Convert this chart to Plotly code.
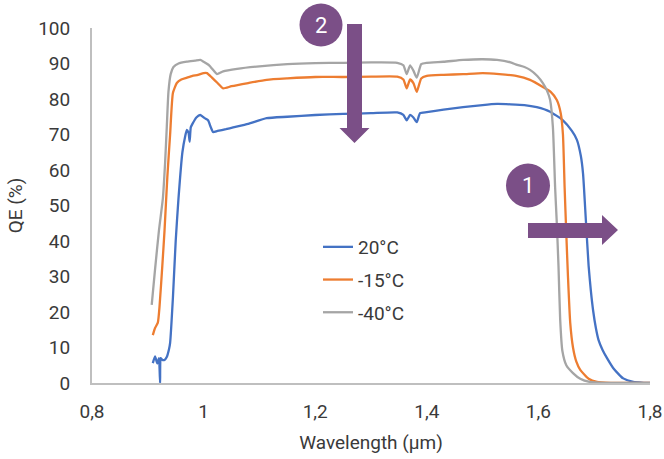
import plotly.graph_objects as go

# ---- data ----
names = ["20°C", "-15°C", "-40°C"]
colors = ["#4472C4", "#ED7D31", "#A5A5A5"]

x_20 = [0.909, 0.913, 0.917, 0.920, 0.922, 0.923, 0.926, 0.930, 0.934, 0.938, 0.940, 0.945,
        0.950, 0.955, 0.962, 0.967, 0.970, 0.973, 0.975, 0.977, 0.980, 0.987, 0.994, 1.002,
        1.008, 1.013, 1.017, 1.025, 1.040, 1.053, 1.080, 1.113, 1.150, 1.200, 1.250, 1.300,
        1.347, 1.358, 1.364, 1.370, 1.376, 1.382, 1.388, 1.400, 1.430, 1.465, 1.500, 1.526,
        1.550, 1.575, 1.597, 1.620, 1.644, 1.660, 1.669, 1.676, 1.680, 1.685, 1.690, 1.694,
        1.698, 1.703, 1.708, 1.715, 1.723, 1.735, 1.752, 1.770, 1.790, 1.800]
y_20 = [5.6, 7.5, 5.5, 7.0, 0.0, 7.0, 6.5, 6.5, 7.3, 9.5, 11.3, 24.0,
        40.0, 52.0, 65.0, 69.5, 71.3, 70.5, 68.0, 72.0, 73.0, 74.8, 75.5, 74.6,
        74.0, 72.0, 70.7, 71.0, 71.5, 72.0, 73.0, 74.6, 75.0, 75.5, 75.8, 76.0,
        76.2, 75.5, 74.0, 75.5, 74.8, 73.5, 76.0, 76.3, 77.0, 77.7, 78.3, 78.6,
        78.5, 78.3, 77.7, 76.5, 74.0, 71.0, 68.5, 64.0, 59.0, 46.0, 33.0, 26.0,
        20.5, 15.5, 12.0, 9.3, 7.0, 4.0, 1.3, 0.3, 0.05, 0.0]

x_15 = [0.909, 0.913, 0.918, 0.921, 0.926, 0.930, 0.935, 0.940, 0.945, 0.952, 0.960,
        0.970, 0.980, 0.990, 1.000, 1.006, 1.015, 1.025, 1.035, 1.050, 1.080, 1.113,
        1.150, 1.200, 1.250, 1.300, 1.347, 1.358, 1.364, 1.370, 1.376, 1.382, 1.390,
        1.400, 1.430, 1.465, 1.500, 1.530, 1.560, 1.585, 1.608, 1.622, 1.633, 1.640,
        1.644, 1.647, 1.650, 1.653, 1.657, 1.662, 1.668, 1.675, 1.690, 1.705, 1.730,
        1.760, 1.800]
y_15 = [13.5, 15.5, 17.0, 21.5, 33.0, 43.0, 58.0, 70.0, 81.7, 84.5, 85.5,
        86.0, 86.5, 86.8, 87.3, 87.3, 86.0, 84.5, 83.0, 83.6, 84.5, 85.4,
        85.8, 86.2, 86.2, 86.3, 86.3, 85.5, 83.0, 85.5, 84.5, 82.0, 85.8,
        86.5, 86.8, 87.0, 87.3, 87.0, 86.5, 85.4, 83.4, 82.0, 79.7, 76.0,
        70.0, 55.0, 42.0, 30.0, 17.0, 10.0, 6.0, 3.7, 1.2, 0.3, 0.05,
        0.0, 0.0]

x_40 = [0.907, 0.913, 0.920, 0.927, 0.931, 0.934, 0.937, 0.941, 0.946, 0.955, 0.970,
        0.985, 0.994, 1.000, 1.010, 1.018, 1.024, 1.035, 1.060, 1.100, 1.150, 1.200,
        1.250, 1.300, 1.347, 1.358, 1.364, 1.370, 1.376, 1.382, 1.390, 1.400, 1.430,
        1.465, 1.500, 1.526, 1.550, 1.562, 1.575, 1.585, 1.598, 1.608, 1.615, 1.621,
        1.626, 1.630, 1.633, 1.636, 1.639, 1.643, 1.650, 1.662, 1.675, 1.692, 1.720,
        1.760, 1.800]
y_40 = [22.0, 32.0, 43.0, 52.0, 62.0, 72.0, 82.0, 87.0, 89.0, 90.0, 90.5,
        90.8, 91.0, 90.5, 89.5, 88.0, 87.0, 87.8, 88.5, 89.2, 89.8, 90.1,
        90.2, 90.3, 90.2, 89.5, 87.0, 89.5, 88.0, 86.0, 89.8, 90.2, 90.5,
        91.0, 91.2, 91.0, 90.3, 89.6, 89.0, 88.2, 86.5, 84.5, 82.5, 79.7,
        72.0, 55.0, 45.0, 33.0, 18.0, 9.0, 5.0, 2.8, 1.2, 0.3, 0.05,
        0.0, 0.0]

x_ticks = [0.8, 1.0, 1.2, 1.4, 1.6, 1.8]
x_ticklabels = ["0,8", "1", "1,2", "1,4", "1,6", "1,8"]
y_ticks = [0, 10, 20, 30, 40, 50, 60, 70, 80, 90, 100]

series_x = [x_20, x_15, x_40]
series_y = [y_20, y_15, y_40]

FONT = "Roboto"
TEXT = "#3a3a3a"
PURPLE = "#7B4F87"

fig = go.Figure()
for i in range(3):
    fig.add_trace(go.Scatter(
        x=series_x[i], y=series_y[i], name=names[i], mode="lines",
        line=dict(color=colors[i], width=2.3, shape="spline", smoothing=0.5),
        legendgroup=names[i],
    ))

W, H = 664, 459
L, R, T, B = 92, 14, 28, 76
pw, ph = W - L - R, H - T - B


def px(xs):
    return (xs - L) / pw


def py(ys):
    return (H - B - ys) / ph


shapes = []
for cx, cy, r in [(321, 25, 21.5), (528, 185.5, 22)]:
    shapes.append(dict(type="circle", xref="paper", yref="paper",
                       xsizemode="pixel", ysizemode="pixel",
                       xanchor=px(cx), yanchor=py(cy),
                       x0=-r, x1=r, y0=-r, y1=r,
                       fillcolor=PURPLE, line=dict(width=0), layer="above"))


def poly(points):
    return "M " + " L ".join(f"{px(a):.5f},{py(b):.5f}" for a, b in points) + " Z"


shapes.append(dict(type="path", xref="paper", yref="paper",
                   path=poly([(347, 24), (362, 24), (362, 128), (369.5, 128),
                              (354.5, 143), (339.5, 128), (347, 128)]),
                   fillcolor=PURPLE, line=dict(width=0), layer="above"))
shapes.append(dict(type="path", xref="paper", yref="paper",
                   path=poly([(528, 223), (602, 223), (602, 215), (618, 230),
                              (602, 245), (602, 238), (528, 238)]),
                   fillcolor=PURPLE, line=dict(width=0), layer="above"))

annotations = [
    dict(text="2", xref="paper", yref="paper", x=px(321), y=py(25),
         showarrow=False, font=dict(family=FONT, size=22, color="white"),
         xanchor="center", yanchor="middle"),
    dict(text="1", xref="paper", yref="paper", x=px(528), y=py(185.5),
         showarrow=False, font=dict(family=FONT, size=22, color="white"),
         xanchor="center", yanchor="middle"),
]

fig.update_layout(
    width=W, height=H,
    margin=dict(l=L, r=R, t=T, b=B, pad=0, autoexpand=False),
    paper_bgcolor="white", plot_bgcolor="white",
    font=dict(family=FONT, size=19, color=TEXT),
    shapes=shapes, annotations=annotations,
    showlegend=True,
    legend=dict(x=px(318), y=py(228), xanchor="left", yanchor="top",
                bgcolor="rgba(0,0,0,0)", traceorder="grouped", tracegroupgap=5,
                font=dict(family=FONT, size=19, color=TEXT), itemwidth=30),
    xaxis=dict(range=[0.8, 1.8], tickvals=x_ticks, ticktext=x_ticklabels,
               showgrid=False, zeroline=False, showline=True, linecolor="#BFBFBF",
               linewidth=2, ticks="", ticklabelstandoff=10, automargin=False,
               title=dict(text="Wavelength (µm)", standoff=14,
                          font=dict(family=FONT, size=19, color=TEXT))),
    yaxis=dict(range=[0, 100], tickvals=y_ticks,
               showgrid=False, zeroline=False, showline=True, linecolor="#BFBFBF",
               linewidth=2, ticks="", ticklabelstandoff=16, automargin=False,
               title=dict(text="QE (%)", standoff=11,
                          font=dict(family=FONT, size=19, color=TEXT))),
)

fig.write_html("out.html", config={"displayModeBar": False},
               post_script="document.body.style.margin='0';")
